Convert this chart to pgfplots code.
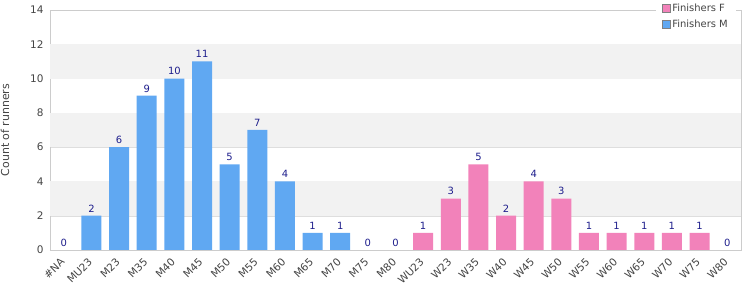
\documentclass[border=0pt]{standalone}
\usepackage{pgfplots}
\pgfplotsset{compat=1.18}
\usepackage{fontspec}
\setmainfont{DejaVu Sans}
\definecolor{mblue}{RGB}{96,168,242}
\definecolor{fpink}{RGB}{242,130,186}
\definecolor{band}{RGB}{242,242,242}
\definecolor{gridc}{RGB}{222,222,222}
\definecolor{axc}{RGB}{204,204,204}
\definecolor{txt}{RGB}{68,68,68}
\definecolor{lbl}{RGB}{30,30,140}
\begin{document}
\begin{tikzpicture}
\useasboundingbox (0,0) rectangle (750bp,300bp);
\begin{axis}[
  at={(50bp,50bp)}, anchor=south west,
  scale only axis, width=691bp, height=240bp,
  xmin=-0.5, xmax=24.5, ymin=0, ymax=14,
  ytick={0,2,...,14},
  xtick={0,...,24},
  xticklabels={\#NA,MU23,M23,M35,M40,M45,M50,M55,M60,M65,M70,M75,M80,WU23,W23,W35,W40,W45,W50,W55,W60,W65,W70,W75,W80},
  x tick label style={xshift=-4bp, yshift=-7bp, rotate=45, anchor=north east, font=\fontsize{10.5}{11}\selectfont, text=txt, inner sep=0bp},
  y tick label style={xshift=-3bp, font=\fontsize{10.5}{11}\selectfont, text=txt},
  /pgf/number format/assume math mode=true,
  major tick length=0pt,
  axis line style={axc},
  ymajorgrids, grid style={gridc},
  ylabel={Count of runners},
  every axis y label/.style={at={(axis description cs:0,0.5)}, rotate=90, anchor=center, yshift=45bp, font=\fontsize{11}{11}\selectfont, text=txt},
  ybar, bar width=20bp, bar shift=0pt,
  nodes near coords,
  every node near coord/.append style={font=\fontsize{10}{11}\selectfont, text=lbl},
  legend style={at={(1,1)}, anchor=north east, xshift=-5bp, yshift=10bp, draw=none, fill=white, font=\fontsize{10}{11}\selectfont, text=txt, row sep=3bp, inner xsep=6bp, inner ysep=2bp},
  legend cell align=left,
  legend image code/.code={\draw[#1, draw=gray, line width=0.6bp] (0bp,-4bp) rectangle (8bp,4bp);},
]
\fill[band] (axis cs:-0.5,2) rectangle (axis cs:24.5,4);
\fill[band] (axis cs:-0.5,6) rectangle (axis cs:24.5,8);
\fill[band] (axis cs:-0.5,10) rectangle (axis cs:24.5,12);
\addplot[fill=fpink, draw=none] coordinates {(13,1) (14,3) (15,5) (16,2) (17,4) (18,3) (19,1) (20,1) (21,1) (22,1) (23,1) (24,0)};
\addlegendentry{Finishers F}
\addplot[fill=mblue, draw=none] coordinates {(0,0) (1,2) (2,6) (3,9) (4,10) (5,11) (6,5) (7,7) (8,4) (9,1) (10,1) (11,0) (12,0)};
\addlegendentry{Finishers M}
\end{axis}
\end{tikzpicture}
\end{document}
